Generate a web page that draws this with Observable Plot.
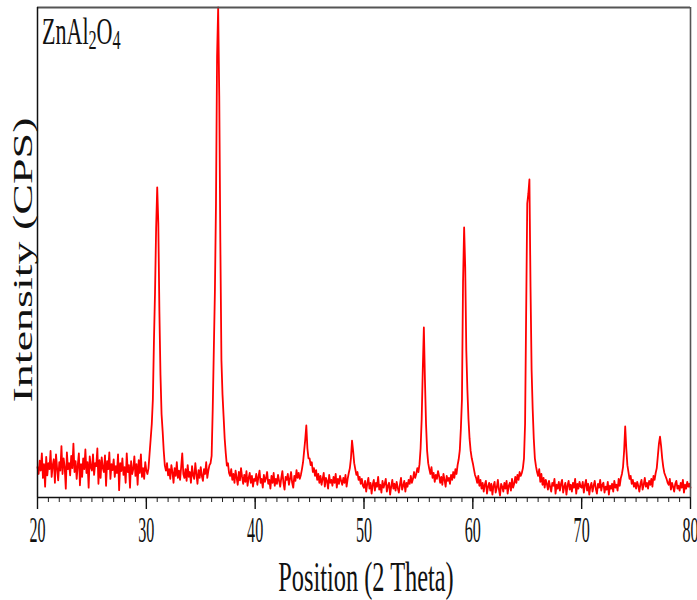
<!DOCTYPE html>
<html><head><meta charset="utf-8">
<script src="https://cdn.jsdelivr.net/npm/d3@7"></script>
<script src="https://cdn.jsdelivr.net/npm/@observablehq/plot@0.6"></script>
<style>body{margin:0;background:#fff}</style>
</head><body><div id="chart"></div>
<script>
// XRD pattern of ZnAl2O4, sampled every 0.1 degree (2 theta) from 20.0 to 80.0
const startAngle = 20, stepAngle = 0.1;
const seg20 = [
62,48,75,55,90,40,68,22,83,45,
70,58,95,42,66,78,30,88,60,35,
72,55,105,48,80,62,18,92,58,70,
45,85,60,110,52,74,38,66,90,25,
68,42,80,58,98,50,72,20,84,62,
55,88,46,70,64,100,28,76,40,82,
60,52,86,24,74,58,92,38,68,56,
78,42,64,50,88,15,70,54,80,46,
62,30,90,52,66,20,74,48,58,84,
44,68,26,76,50,88,42,60,38,72];
const seg30 = [
55,48,60,90,120,150,200,320,420,550,
633,560,380,250,170,135,95,65,55,70,
45,58,38,66,52,30,60,44,72,40,
55,36,62,90,48,40,58,34,66,42,
52,30,64,45,38,70,48,28,56,40,
62,44,34,58,48,72,40,55,66,70,
85,180,300,420,600,900,1000,820,520,280,
210,165,120,90,65,70,50,44,58,36,
48,30,55,40,26,52,35,60,42,28,
46,32,54,24,40,50,30,44,22,38];
const seg40 = [
34,48,26,42,55,30,38,20,46,32,
40,52,28,36,18,44,30,50,24,38,
28,46,34,22,40,54,30,16,42,36,
48,26,38,52,30,20,44,34,56,40,
50,38,46,58,72,95,118,147,100,80,
80,66,72,52,60,44,56,36,48,30,
44,26,38,50,22,40,34,18,46,30,
36,24,42,30,48,20,38,28,44,34,
26,40,30,46,22,38,50,60,80,116,
95,70,58,46,52,36,42,28,38,24];
const seg50 = [
20,34,12,28,40,18,30,8,26,36,
14,30,22,42,16,26,10,34,20,28,
38,12,24,30,6,22,36,18,28,14,
32,20,10,26,40,16,24,34,12,30,
22,36,28,44,30,38,52,40,48,60,
52,68,100,160,260,347,240,150,95,70,
58,48,62,40,50,32,46,38,54,44,
30,42,26,48,36,22,44,34,40,28,
46,36,52,40,58,48,66,78,96,140,
200,440,551,470,300,220,160,120,95,80];
const seg60 = [
70,58,46,40,30,44,24,36,18,30,
12,26,34,8,22,30,14,28,6,24,
32,10,20,36,16,4,28,22,12,30,
18,34,8,24,30,14,38,20,28,42,
30,46,36,52,44,50,60,80,150,380,
600,620,649,430,260,180,120,80,64,52,
44,58,32,48,26,40,20,36,28,16,
34,22,12,30,24,38,8,26,18,32,
14,28,36,10,22,30,6,24,34,16,
26,12,30,20,38,8,28,18,32,22];
const seg70 = [
20,32,10,26,36,14,28,6,22,30,
12,24,34,18,8,28,20,36,14,26,
30,10,22,16,32,6,24,18,28,12,
34,20,26,14,38,24,40,48,62,95,
145,100,66,52,38,44,28,36,22,30,
18,32,24,12,28,36,16,26,40,22,
30,18,34,26,38,22,44,36,50,60,
85,110,124,105,80,62,50,44,38,30,
26,38,16,30,22,12,28,34,18,24,
14,30,20,36,10,26,18,32,22,28,
20];
const xTickLabels = [20, 30, 40, 50, 60, 70, 80];
const title = ["ZnAl", "2", "O", "4"];
const xLabel = "Position (2 Theta)";
const yLabel = "Intensity (CPS)";

const intensity = [...seg20, ...seg30, ...seg40, ...seg50, ...seg60, ...seg70];
const data = intensity.map((v, i) => ({theta: +(startAngle + i * stepAngle).toFixed(1), cps: v}));
const xMinor = d3.range(20, 81, 1);
const font = '"Liberation Serif","Times New Roman",serif';
const squeeze = 0.58;
const tickSqueeze = 0.46;

const chart = Plot.plot({
  width: 697, height: 600,
  marginLeft: 37, marginRight: 7, marginTop: 7, marginBottom: 103,
  style: {fontFamily: font, background: "#fff", color: "#000"},
  x: {domain: [20, 80]},
  y: {domain: [0, 1000], axis: null},
  marks: [
    Plot.line(data, {x: "theta", y: "cps", stroke: "#ff0000", strokeWidth: 1.8}),
    Plot.axisX({ticks: xMinor, tickSize: 5, tickFormat: () => "", label: null, stroke: "#222"}),
    Plot.axisX({ticks: xTickLabels, tickSize: 12, tickPadding: 8, fontSize: 35, label: null, stroke: "#111", strokeWidth: 1.4, fill: "#111"}),
    Plot.ruleY([1000], {stroke: "#555", strokeWidth: 2.2}),
    Plot.ruleX([80], {stroke: "#555", strokeWidth: 1.6}),
    Plot.ruleX([20], {stroke: "#111", strokeWidth: 1.5}),
    Plot.ruleY([0], {stroke: "#111", strokeWidth: 1.5})
  ]
});
document.getElementById("chart").appendChild(chart);

const svg = d3.select(chart);
svg.selectAll("text").each(function() {
  if (xTickLabels.map(String).includes(this.textContent)) {
    const t = this.getAttribute("transform") || "";
    this.setAttribute("transform", t + ` scale(${tickSqueeze},1)`);
    this.setAttribute("font-size", 35);
    this.style.fontSize = "35px";
  }
});

// title inside the frame
const tt = svg.append("text")
  .attr("transform", `translate(42,44) scale(${squeeze},1)`)
  .attr("text-anchor", "start")
  .attr("font-family", font).attr("font-size", 38).attr("fill", "#111");
tt.append("tspan").text(title[0]);
tt.append("tspan").attr("font-size", 28).attr("dy", 5).text(title[1]);
tt.append("tspan").attr("dy", -5).text(title[2]);
tt.append("tspan").attr("font-size", 28).attr("dy", 5).text(title[3]);

// x axis label
svg.append("text")
  .attr("transform", `translate(366,591) scale(${squeeze},1)`)
  .attr("text-anchor", "middle")
  .attr("font-family", font).attr("font-size", 42).attr("fill", "#111")
  .text(xLabel);

// y axis label
svg.append("text")
  .attr("transform", `translate(32,260) rotate(-90) scale(1,${squeeze})`)
  .attr("text-anchor", "middle")
  .attr("font-family", font).attr("font-size", 46).attr("fill", "#111")
  .text(yLabel);
</script>
</body></html>
